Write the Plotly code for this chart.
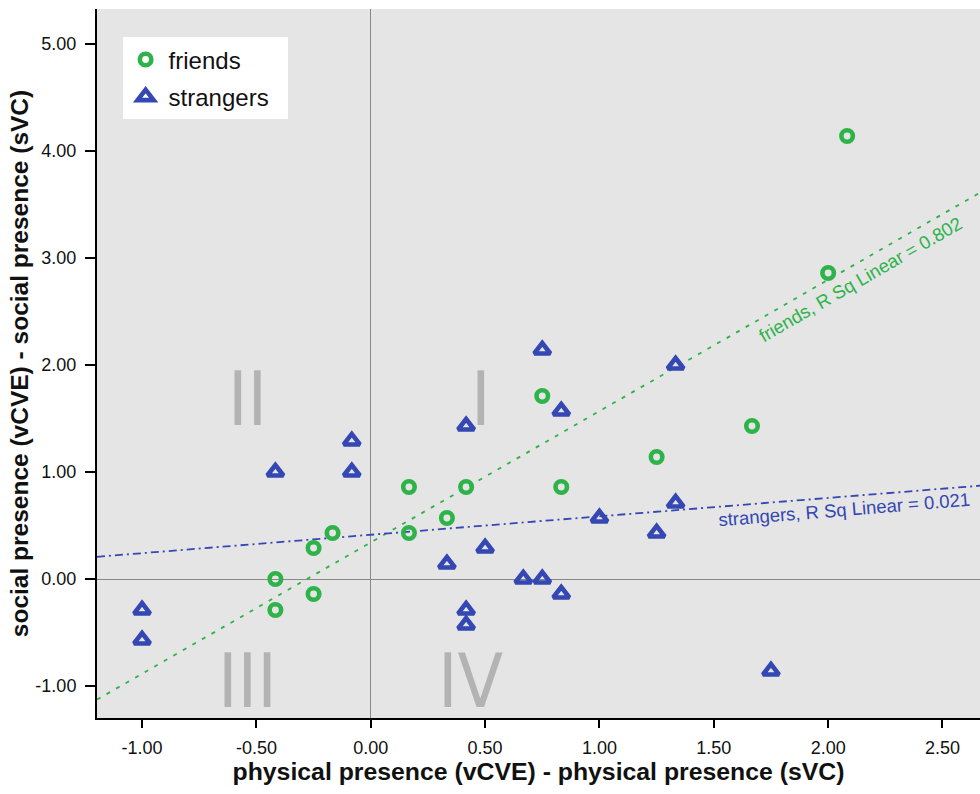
import numpy as np
import plotly.graph_objects as go

# ---- data ----
friends_x = [2.083, 2.0, 1.667, 1.25, 0.75, 0.833, 0.417, 0.167, 0.333, 0.167, -0.167, -0.25, -0.417, -0.417, -0.25]
friends_y = [4.14, 2.86, 1.43, 1.14, 1.71, 0.86, 0.86, 0.86, 0.57, 0.43, 0.43, 0.29, 0.0, -0.29, -0.14]

strangers_x = [-1.0, -1.0, -0.417, -0.083, -0.083, 0.417, 0.75, 0.833, 1.333, 1.0, 1.333, 1.25, 0.5, 0.333, 0.667, 0.75, 0.833, 0.417, 0.417, 1.75]
strangers_y = [-0.29, -0.57, 1.0, 1.29, 1.0, 1.43, 2.14, 1.57, 2.0, 0.57, 0.71, 0.43, 0.29, 0.14, 0.0, 0.0, -0.14, -0.29, -0.43, -0.86]

x_ticks = [-1.0, -0.5, 0.0, 0.5, 1.0, 1.5, 2.0, 2.5]
y_ticks = [-1.0, 0.0, 1.0, 2.0, 3.0, 4.0, 5.0]
quadrant_labels = ["I", "II", "III", "IV"]
quadrant_x = [0.48, -0.54, -0.54, 0.44]
quadrant_y = [1.68, 1.68, -0.95, -0.95]
fit_labels = ["friends, R Sq Linear = 0.802", "strangers, R Sq Linear = 0.021"]

X_RANGE = [-1.197, 2.664]
Y_RANGE = [-1.299, 5.327]

GREEN = "#2eb34a"
BLUE = "#3447b3"
FONT = "Liberation Sans, Arial, sans-serif"

fig = go.Figure()

# regression lines
fx = np.array(X_RANGE)
bf = np.polyfit(friends_x, friends_y, 1)
bs = np.polyfit(strangers_x, strangers_y, 1)
fig.add_trace(go.Scatter(x=fx, y=np.polyval(bf, fx), mode="lines", showlegend=False,
                         line=dict(color=GREEN, width=1.8, dash="4px,7px"), hoverinfo="skip"))
fig.add_trace(go.Scatter(x=fx, y=np.polyval(bs, fx), mode="lines", showlegend=False,
                         line=dict(color=BLUE, width=1.8, dash="8px,4px,2px,4px"), hoverinfo="skip"))

fig.add_trace(go.Scatter(x=friends_x, y=friends_y, mode="markers", name="friends", legendgroup="f",
                         marker=dict(symbol="circle-open", size=11.5, color=GREEN, line=dict(width=4.6, color=GREEN))))
fig.add_trace(go.Scatter(x=strangers_x, y=strangers_y, mode="markers", name="strangers\u00a0\u00a0", legendgroup="s",
                         marker=dict(symbol="triangle-up-open", size=14, color=BLUE, line=dict(width=4.6, color=BLUE))))

# quadrant labels
for t, qx, qy in zip(quadrant_labels, quadrant_x, quadrant_y):
    fig.add_annotation(x=qx, y=qy, text=t, showarrow=False,
                       font=dict(family="Liberation Sans Narrow, Arial Narrow, DejaVu Sans Condensed, sans-serif",
                                 size=74, color="#b3b3b3"))

# fit labels
fig.add_annotation(x=2.14, y=2.80, text=fit_labels[0], showarrow=False, textangle=-30,
                   font=dict(family=FONT, size=18.5, color=GREEN))
fig.add_annotation(x=2.07, y=0.645, text=fit_labels[1], showarrow=False, textangle=-4.7,
                   font=dict(family=FONT, size=18.5, color=BLUE))

fig.update_layout(
    width=980, height=794,
    margin=dict(l=97, r=0, t=9, b=76),
    paper_bgcolor="white",
    plot_bgcolor="#e5e5e5",
    font=dict(family=FONT, color="#111111", size=18),
    showlegend=True,
    legend=dict(x=0.029, y=0.96, xanchor="left", yanchor="top", bgcolor="white",
                font=dict(family=FONT, size=24, color="#111111"), borderwidth=0,
                tracegroupgap=3, itemwidth=36),
)
fig.update_xaxes(range=X_RANGE, tickvals=x_ticks, ticktext=[f"{v:.2f}" for v in x_ticks],
                 showgrid=False, zeroline=True, zerolinecolor="#888888", zerolinewidth=1.2,
                 showline=True, linecolor="black", linewidth=2, ticks="outside", ticklen=8,
                 tickwidth=1.5, tickcolor="black", tickfont=dict(size=18, family=FONT, color="#111111"),
                 ticklabelstandoff=4,
                 title=dict(text="physical presence (vCVE) - physical presence (sVC)",
                            font=dict(size=24.8, family=FONT, weight="bold"), standoff=6))
fig.update_yaxes(range=Y_RANGE, tickvals=y_ticks, ticktext=[f"{v:.2f}" for v in y_ticks],
                 showgrid=False, zeroline=True, zerolinecolor="#888888", zerolinewidth=1.2,
                 showline=True, linecolor="black", linewidth=2, ticks="outside", ticklen=10,
                 tickwidth=1.5, tickcolor="black", tickfont=dict(size=18, family=FONT, color="#111111"),
                 ticklabelstandoff=5,
                 title=dict(text="social presence (vCVE) - social presence (sVC)",
                            font=dict(size=24.5, family=FONT, weight="bold"), standoff=0))

fig.write_html("out.html")
